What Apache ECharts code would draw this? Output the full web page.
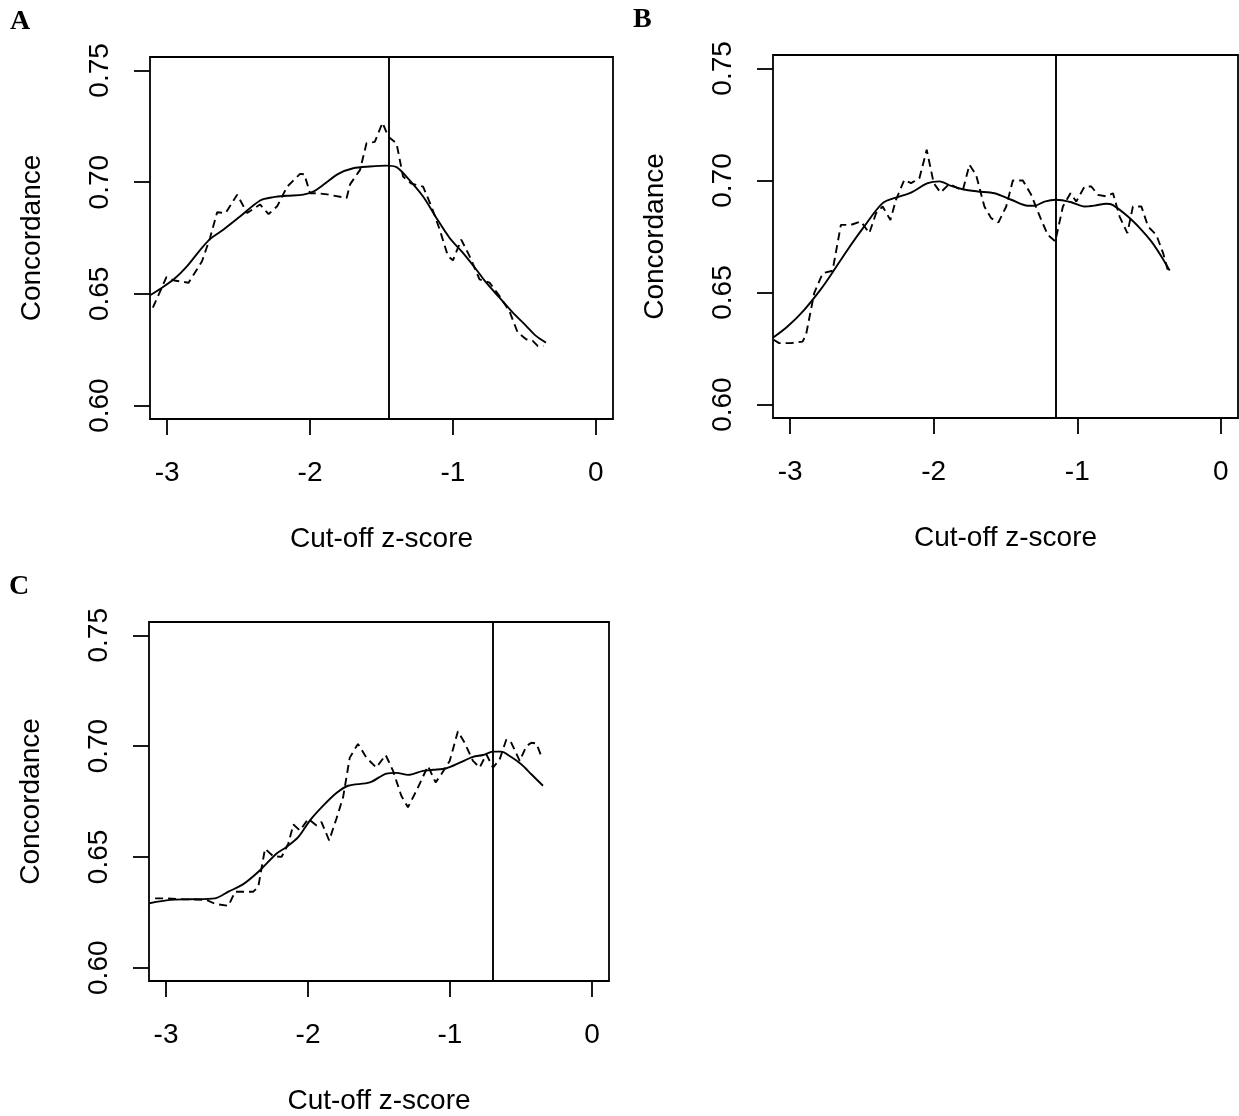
<!DOCTYPE html>
<html>
<head>
<meta charset="UTF-8">
<title>Concordance vs cut-off</title>
<script src="https://cdn.jsdelivr.net/npm/echarts@6.0.0/dist/echarts.min.js"></script>
<style>
  html, body { margin: 0; padding: 0; background: #fff; }
  #main { width: 1239px; height: 1116px; }
</style>
</head>
<body>
<div id="main"></div>
<script>
// tick labels
var xTicks = [-3, -2, -1, 0];
var yTicks = [0.60, 0.65, 0.70, 0.75];
var panelLabels = ['A', 'B', 'C'];
var cutoffs = [-1.45, -1.15, -0.70];

// panel A
var aDashX = [-3.10, -3.005, -2.95, -2.85, -2.756, -2.70, -2.65, -2.59, -2.51, -2.44, -2.35, -2.29, -2.23, -2.16, -2.07, -2.04, -2.00, -1.94, -1.88, -1.744, -1.72, -1.65, -1.605, -1.547, -1.493, -1.453, -1.395, -1.349, -1.29, -1.209, -1.15, -1.093, -1.035, -1.00, -0.942, -0.884, -0.814, -0.744, -0.674, -0.605, -0.547, -0.488, -0.442, -0.407, -0.367];
var aDashY = [0.6438, 0.6575, 0.6560, 0.6550, 0.6646, 0.6750, 0.6865, 0.6862, 0.6944, 0.6862, 0.6900, 0.6857, 0.6892, 0.6980, 0.7037, 0.7035, 0.6950, 0.6950, 0.6945, 0.6929, 0.6990, 0.7055, 0.7174, 0.7180, 0.7266, 0.7204, 0.7174, 0.7025, 0.6993, 0.6980, 0.6890, 0.6788, 0.6669, 0.6650, 0.6743, 0.6669, 0.6565, 0.6550, 0.6490, 0.6423, 0.6327, 0.6297, 0.6290, 0.6267, 0.6267];
var aFitX = [-3.116, -3.047, -2.953, -2.86, -2.767, -2.698, -2.605, -2.488, -2.349, -2.256, -2.163, -2.047, -1.977, -1.907, -1.802, -1.698, -1.581, -1.465, -1.395, -1.326, -1.209, -1.116, -1.023, -0.93, -0.837, -0.767, -0.674, -0.581, -0.488, -0.419, -0.349];
var aFitY = [0.6495, 0.6523, 0.6565, 0.6624, 0.6698, 0.6746, 0.6788, 0.6847, 0.6918, 0.6933, 0.6939, 0.6944, 0.6958, 0.6988, 0.7037, 0.7062, 0.7070, 0.7074, 0.7067, 0.7025, 0.6936, 0.6840, 0.6750, 0.6683, 0.6609, 0.6550, 0.6483, 0.6416, 0.6357, 0.6312, 0.6282];

// panel B
var bDashX = [-3.116, -3.077, -2.995, -2.914, -2.89, -2.833, -2.774, -2.705, -2.647, -2.577, -2.507, -2.449, -2.402, -2.356, -2.302, -2.263, -2.205, -2.158, -2.10, -2.049, -2.00, -1.953, -1.891, -1.798, -1.751, -1.705, -1.647, -1.60, -1.549, -1.495, -1.449, -1.379, -1.321, -1.251, -1.205, -1.153, -1.10, -1.047, -1.007, -0.949, -0.902, -0.856, -0.798, -0.751, -0.705, -0.651, -0.612, -0.553, -0.507, -0.449, -0.402, -0.363];
var bDashY = [0.6289, 0.6274, 0.6274, 0.6281, 0.6311, 0.6497, 0.6586, 0.6597, 0.6802, 0.6802, 0.6817, 0.6765, 0.6854, 0.6884, 0.6824, 0.6914, 0.7003, 0.6988, 0.7010, 0.7137, 0.6988, 0.6946, 0.6985, 0.6955, 0.7070, 0.7025, 0.6884, 0.6832, 0.6813, 0.6884, 0.7000, 0.7000, 0.6936, 0.6824, 0.6757, 0.6728, 0.6884, 0.6943, 0.6906, 0.6973, 0.6973, 0.6936, 0.6929, 0.6943, 0.6839, 0.6765, 0.6884, 0.6884, 0.6795, 0.6757, 0.6676, 0.6586];
var bFitX = [-3.116, -3.019, -2.902, -2.786, -2.716, -2.60, -2.484, -2.356, -2.251, -2.158, -2.042, -1.96, -1.879, -1.798, -1.693, -1.577, -1.46, -1.344, -1.298, -1.228, -1.147, -1.042, -0.949, -0.879, -0.798, -0.751, -0.647, -0.553, -0.484, -0.414, -0.356];
var bFitY = [0.6300, 0.6348, 0.6423, 0.6515, 0.6579, 0.6691, 0.6795, 0.6899, 0.6926, 0.6946, 0.6988, 0.6996, 0.6976, 0.6961, 0.6951, 0.6943, 0.6914, 0.6887, 0.6887, 0.6906, 0.6914, 0.6903, 0.6884, 0.6888, 0.6896, 0.6890, 0.6839, 0.6780, 0.6728, 0.6661, 0.6598];

// panel C
var cDashX = [-3.077, -2.995, -2.878, -2.714, -2.655, -2.561, -2.514, -2.385, -2.35, -2.303, -2.245, -2.186, -2.139, -2.103, -2.057, -1.998, -1.94, -1.905, -1.851, -1.80, -1.753, -1.706, -1.648, -1.589, -1.519, -1.453, -1.401, -1.343, -1.296, -1.237, -1.155, -1.101, -1.061, -1.002, -0.944, -0.897, -0.838, -0.791, -0.744, -0.697, -0.65, -0.603, -0.568, -0.509, -0.462, -0.427, -0.392, -0.357];
var cDashY = [0.6313, 0.6313, 0.6309, 0.6306, 0.6288, 0.6279, 0.6343, 0.6343, 0.6366, 0.6537, 0.6503, 0.6500, 0.6560, 0.6646, 0.6619, 0.6672, 0.6642, 0.6657, 0.6574, 0.6672, 0.6769, 0.6948, 0.7010, 0.6948, 0.6903, 0.6960, 0.6888, 0.6776, 0.6724, 0.6798, 0.6910, 0.6836, 0.6873, 0.6933, 0.7067, 0.7015, 0.6933, 0.6903, 0.6963, 0.6903, 0.6940, 0.7030, 0.7015, 0.6933, 0.7000, 0.7015, 0.7012, 0.6955];
var cFitX = [-3.117, -2.972, -2.831, -2.655, -2.561, -2.456, -2.338, -2.221, -2.151, -2.069, -1.987, -1.893, -1.80, -1.718, -1.565, -1.447, -1.377, -1.295, -1.19, -1.119, -1.025, -0.931, -0.838, -0.767, -0.697, -0.638, -0.58, -0.498, -0.427, -0.345];
var cFitY = [0.6291, 0.6306, 0.6309, 0.6313, 0.6343, 0.6377, 0.6440, 0.6515, 0.6545, 0.6589, 0.6664, 0.6731, 0.6788, 0.6821, 0.6836, 0.6876, 0.6879, 0.6870, 0.6888, 0.6893, 0.6900, 0.6925, 0.6951, 0.6960, 0.6975, 0.6975, 0.6955, 0.6918, 0.6873, 0.6821];

var dashXs = [aDashX, bDashX, cDashX];
var dashYs = [aDashY, bDashY, cDashY];
var fitXs = [aFitX, bFitX, cFitX];
var fitYs = [aFitY, bFitY, cFitY];

// layout of the three plot boxes (px)
var boxes = [
    {left: 150, top: 57, width: 463, height: 362},
    {left: 773, top: 55, width: 465, height: 363},
    {left: 149, top: 622, width: 460, height: 361}
];

function zip(xs, ys) {
    var out = [];
    for (var i = 0; i < xs.length; i++) out.push([xs[i], ys[i]]);
    return out;
}

var font = 'Liberation Sans, Arial, sans-serif';
var fs = 28;
var option = {
    backgroundColor: '#fff',
    animation: false,
    title: [],
    grid: [],
    xAxis: [],
    yAxis: [],
    series: []
};

for (var p = 0; p < 3; p++) {
    var b = boxes[p];
    option.title.push({
        text: panelLabels[p],
        left: b.left - 145,
        top: b.top - 54,
        textStyle: {fontFamily: 'Liberation Serif, Times New Roman, serif', fontWeight: 'bold', fontSize: 28, color: '#000'}
    });
    option.grid.push({
        left: b.left, top: b.top, width: b.width, height: b.height,
        show: true, borderColor: '#000', borderWidth: 1.8, backgroundColor: 'transparent'
    });
    option.xAxis.push({
        type: 'value', gridIndex: p, min: -3.12, max: 0.12,
        name: 'Cut-off z-score', nameLocation: 'middle', nameGap: 106,
        nameTextStyle: {fontFamily: font, fontSize: fs, color: '#000'},
        axisLine: {show: false, onZero: false},
        axisTick: {show: true, inside: false, length: 16, customValues: xTicks, lineStyle: {color: '#000', width: 1.8}},
        axisLabel: {show: true, customValues: xTicks, margin: 40, fontFamily: font, fontSize: fs, color: '#000'},
        splitLine: {show: false}
    });
    option.yAxis.push({
        type: 'value', gridIndex: p, min: 0.594, max: 0.756,
        name: 'Concordance', nameLocation: 'middle', nameGap: 104, nameRotate: 90,
        nameTextStyle: {fontFamily: font, fontSize: fs, color: '#000'},
        axisLine: {show: false, onZero: false},
        axisTick: {show: true, inside: false, length: 16, customValues: yTicks, lineStyle: {color: '#000', width: 1.8}},
        axisLabel: {
            show: true, customValues: yTicks, rotate: 90, margin: 36,
            fontFamily: font, fontSize: fs, color: '#000',
            formatter: function (v) { return v.toFixed(2); }
        },
        splitLine: {show: false}
    });
    option.series.push({
        type: 'line', xAxisIndex: p, yAxisIndex: p,
        data: zip(dashXs[p], dashYs[p]),
        showSymbol: false, clip: true,
        lineStyle: {color: '#000', width: 1.9, type: [8, 5]},
        markLine: {
            silent: true, symbol: 'none', label: {show: false},
            lineStyle: {color: '#000', width: 1.9, type: 'solid'},
            data: [{xAxis: cutoffs[p]}]
        }
    });
    option.series.push({
        type: 'line', xAxisIndex: p, yAxisIndex: p,
        data: zip(fitXs[p], fitYs[p]),
        showSymbol: false, clip: true, smooth: 0.3,
        lineStyle: {color: '#000', width: 1.9, type: 'solid'}
    });
}

var myChart = echarts.init(document.getElementById('main'), null, {renderer: 'canvas'});
myChart.setOption(option);
</script>
</body>
</html>
